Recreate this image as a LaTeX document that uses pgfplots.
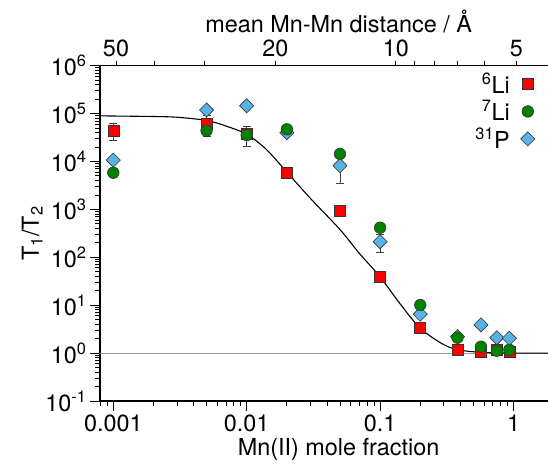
\documentclass[border=0pt]{standalone}
\usepackage{fontspec}
\setmainfont{TeX Gyre Heros}
\usepackage{pgfplots}
\pgfplotsset{compat=1.18}
\definecolor{myred}{RGB}{255,0,0}
\definecolor{mygreen}{RGB}{0,130,0}
\definecolor{myblue}{RGB}{90,178,228}
\newcommand{\bigf}{\fontsize{23.5}{28}\selectfont}
\begin{document}
\begin{tikzpicture}
\begin{axis}[
  scale only axis, width=477.2bp, height=335.3bp,
  xmode=log, xmin=0.000795, xmax=3,
  tick align=outside,
  tick label style={font=\bigf},
  label style={font=\bigf},
  every tick/.style={black, line width=0.9pt},
  ymode=log, ymin=0.1, ymax=1e6,
  axis line style={line width=1.1pt},
  xtick pos=left, ytick pos=left,
  major tick length=10bp, minor tick length=5bp,
  xtick={0.001,0.01,0.1,1}, xticklabels={0.001,0.01,0.1,1},
  minor xtick={0.0008,0.0009,0.002,0.003,0.004,0.005,0.006,0.007,0.008,0.009,0.02,0.03,0.04,0.05,0.06,0.07,0.08,0.09,0.2,0.3,0.4,0.5,0.6,0.7,0.8,0.9,2,3},
  ytick={0.1,1,10,100,1000,10000,100000,1000000},
  yticklabels={10\textsuperscript{-1},10\textsuperscript{0},10\textsuperscript{1},10\textsuperscript{2},10\textsuperscript{3},10\textsuperscript{4},10\textsuperscript{5},10\textsuperscript{6}},
  minor ytick={0.2,0.3,0.4,0.5,0.6,0.7,0.8,0.9,2,3,4,5,6,7,8,9,20,30,40,50,60,70,80,90,200,300,400,500,600,700,800,900,2000,3000,4000,5000,6000,7000,8000,9000,2e4,3e4,4e4,5e4,6e4,7e4,8e4,9e4,2e5,3e5,4e5,5e5,6e5,7e5,8e5,9e5},
  xlabel={Mn(II) mole fraction},
  ylabel={T\textsubscript{1}/T\textsubscript{2}},
  ylabel style={xshift=0bp, yshift=-4bp},
  legend plot pos=right,
  legend cell align=right,
  legend style={font=\bigf, draw=none, fill=none, at={(0.9117,0.985)}, anchor=north east, inner sep=0pt, row sep=1.5bp, column sep=9bp},
]
\addlegendimage{only marks, mark=square*, mark size=5.5bp, mark options={fill=myred, draw=black!80, line width=0.6pt}}
\addlegendentry{\textsuperscript{6}Li}
\addlegendimage{only marks, mark=*, mark size=5.8bp, mark options={fill=mygreen, draw=black!80, line width=0.6pt}}
\addlegendentry{\textsuperscript{7}Li}
\addlegendimage{only marks, mark=square*, mark size=5bp, mark options={rotate=45, fill=myblue, draw=black!80, line width=0.6pt}}
\addlegendentry{\textsuperscript{31}P}

\addplot[forget plot, gray!80, line width=0.8pt] coordinates {(0.0007,1) (4,1)};
\addplot[forget plot, black, line width=1.1pt, smooth] coordinates {
(0.0007,90000) (0.001,89000) (0.002,87000) (0.003,84000) (0.005,72000) (0.007,55000)
(0.01,37000) (0.014,18000) (0.02,6000) (0.03,1700) (0.05,380) (0.07,120)
(0.1,39) (0.14,11) (0.2,3.3) (0.3,1.5) (0.4,1.15) (0.6,1.03) (1.0,1.0) (2.0,1.0) (3.5,1.0)};

\addplot[forget plot, draw=none, mark=none, error bars/.cd, y dir=both, y explicit,
  error bar style={black!75, line width=0.8pt},
  error mark options={rotate=90, mark size=4bp, black!75, line width=0.8pt}]
  coordinates {
  (0.001,44000) +- (0,17000)
  (0.005,62000) +- (0,28000)
  (0.01,37500) +- (0,16500)
  (0.05,940) +- (0,230)
  (0.05,8170) +- (0,4700)
  (0.1,212) +- (0,87)
  };

\addplot[forget plot, only marks, mark=square*, mark size=5.5bp, mark options={fill=myred, draw=black!80, line width=0.6pt}]
coordinates {(0.001,44000) (0.005,62000) (0.01,37500) (0.02,5950) (0.05,940) (0.1,39.4) (0.2,3.3) (0.38,1.2) (0.57,1.05) (0.75,1.2) (0.93,1.05)};
\addplot[forget plot, only marks, mark=square*, mark size=5bp, mark options={rotate=45, fill=myblue, draw=black!80, line width=0.6pt}]
coordinates {(0.001,10700) (0.005,119000) (0.01,146000) (0.02,40000) (0.05,8170) (0.1,212) (0.2,6.5) (0.38,2.2) (0.57,3.9) (0.75,2.1) (0.93,2.04)};
\addplot[forget plot, only marks, mark=*, mark size=5.8bp, mark options={fill=mygreen, draw=black!80, line width=0.6pt}]
coordinates {(0.001,5830) (0.005,44000) (0.01,35700) (0.02,47000) (0.05,14400) (0.1,415) (0.2,10.1) (0.38,2.1) (0.57,1.36) (0.75,1.12) (0.93,1.17)};
\end{axis}

\begin{axis}[
  scale only axis, width=477.2bp, height=335.3bp,
  xmode=log, xmin=0.000795, xmax=3,
  ymin=0, ymax=1,
  tick align=outside,
  tick label style={font=\bigf},
  label style={font=\bigf},
  every tick/.style={black, line width=0.9pt},
  axis line style={draw=none},
  xtick pos=right, xticklabel pos=right,
  ytick=\empty,
  major tick length=5bp, minor tick length=5bp,
  xtick={0.001048,0.016375,0.1310,1.048}, xticklabels={50,20,10,5},
  minor xtick={0.002047,0.004852,0.1797,0.2559,0.3819,0.6065},
  xlabel={mean Mn-Mn distance / Å},
]
\end{axis}
\pgfresetboundingbox
\path[use as bounding box] (-100bp,-66bp) rectangle (448bp,401bp);
\end{tikzpicture}
\end{document}
